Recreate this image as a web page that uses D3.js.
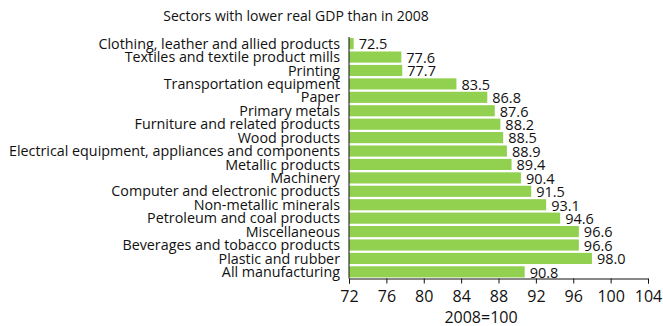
<!DOCTYPE html>
<html>
<head>
<meta charset="utf-8">
<script src="https://cdn.jsdelivr.net/npm/d3@7"></script>
<style>
  body { margin: 0; background: #fff; }
  text { font-family: "Open Sans", sans-serif; fill: #111; }
</style>
</head>
<body>
<svg id="chart" width="663" height="326"></svg>
<script>
const sectors = [
  "Clothing, leather and allied products",
  "Textiles and textile product mills",
  "Printing",
  "Transportation equipment",
  "Paper",
  "Primary metals",
  "Furniture and related products",
  "Wood products",
  "Electrical equipment, appliances and components",
  "Metallic products",
  "Machinery",
  "Computer and electronic products",
  "Non-metallic minerals",
  "Petroleum and coal products",
  "Miscellaneous",
  "Beverages and tobacco products",
  "Plastic and rubber",
  "All manufacturing"
];
const values = [72.5, 77.6, 77.7, 83.5, 86.8, 87.6, 88.2, 88.5, 88.9, 89.4, 90.4, 91.5, 93.1, 94.6, 96.6, 96.6, 98.0, 90.8];
const ticks = [72, 76, 80, 84, 88, 92, 96, 100, 104];

const svg = d3.select("#chart");
const plotLeft = 349, plotRight = 648, plotTop = 37, plotBottom = 278.5;

const x = d3.scaleLinear().domain([72, 104]).range([plotLeft, plotRight]);
const y = d3.scaleBand().domain(sectors).range([plotTop, plotBottom]).paddingInner(0.17).paddingOuter(0.08);

svg.append("text")
  .attr("x", 296).attr("y", 21)
  .attr("text-anchor", "middle")
  .style("font-size", "14px")
  .text("Sectors with lower real GDP than in 2008");

const rows = svg.selectAll("g.row")
  .data(sectors)
  .enter().append("g").attr("class", "row");

rows.append("rect")
  .attr("x", x(72))
  .attr("y", d => y(d))
  .attr("width", (d, i) => x(values[i]) - x(72))
  .attr("height", y.bandwidth())
  .style("fill", "#92d050");

rows.append("text")
  .attr("x", (d, i) => x(values[i]) + 5)
  .attr("y", d => y(d) + y.bandwidth() / 2)
  .attr("dy", "0.4em")
  .style("font-size", "14.5px")
  .text((d, i) => values[i].toFixed(1));

rows.append("text")
  .attr("x", plotLeft - 9)
  .attr("y", d => y(d) + y.bandwidth() / 2)
  .attr("dy", "0.36em")
  .attr("text-anchor", "end")
  .style("font-size", "14.3px")
  .text(d => d);

// axes
const xAxis = svg.append("g")
  .attr("transform", `translate(0,${plotBottom})`)
  .call(d3.axisBottom(x).tickValues(ticks).tickSize(5).tickSizeOuter(5).tickPadding(7));
xAxis.select(".domain").attr("stroke", "#111");
xAxis.selectAll(".tick line").attr("stroke", "#111");
xAxis.selectAll(".tick text").style("font-size", "16px").attr("fill", "#111");

svg.append("line")
  .attr("x1", plotLeft).attr("x2", plotLeft)
  .attr("y1", plotTop).attr("y2", plotBottom)
  .attr("stroke", "#111");

svg.append("text")
  .attr("x", 481).attr("y", 322.5)
  .attr("text-anchor", "middle")
  .style("font-size", "16px")
  .text("2008=100");
</script>
</body>
</html>
